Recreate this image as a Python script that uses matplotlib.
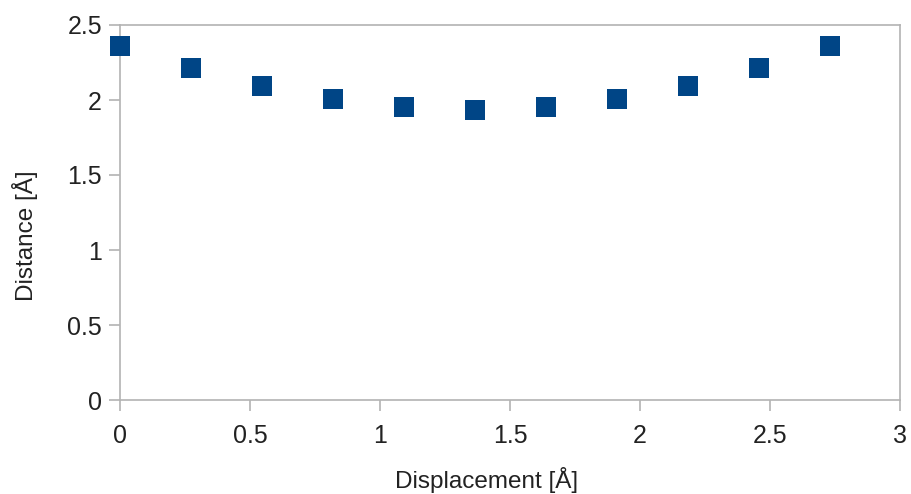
import matplotlib
matplotlib.use("Agg")
import matplotlib.pyplot as plt

displacement = [0.0, 0.273, 0.546, 0.819, 1.092, 1.365, 1.638, 1.911, 2.185, 2.458, 2.731]
distance = [2.36, 2.215, 2.095, 2.005, 1.95, 1.93, 1.95, 2.005, 2.095, 2.215, 2.36]
xticks = [0, 0.5, 1, 1.5, 2, 2.5, 3]
yticks = [0, 0.5, 1, 1.5, 2, 2.5]
xticklabels = ["0", "0.5", "1", "1.5", "2", "2.5", "3"]
yticklabels = ["0", "0.5", "1", "1.5", "2", "2.5"]

plt.rcParams['font.family'] = ['Liberation Sans', 'DejaVu Sans']

W, H = 911, 494
fig = plt.figure(figsize=(W / 100, H / 100), dpi=100)
ax = fig.add_axes([120 / W, (H - 400) / H, 780 / W, 375 / H])

ax.plot(displacement, distance, linestyle='none', marker='s', markersize=14.4,
        markerfacecolor='#004586', markeredgewidth=0, clip_on=False, zorder=3)

ax.set_xlim(0, 3)
ax.set_ylim(0, 2.5)
ax.set_xticks(xticks)
ax.set_xticklabels(xticklabels)
ax.set_yticks(yticks)
ax.set_yticklabels(yticklabels)

gray = '#b3b3b3'
for s in ax.spines.values():
    s.set_color(gray)
    s.set_linewidth(1.2)
ax.tick_params(axis='both', direction='out', length=8, width=1.2, color=gray,
               labelsize=18, labelcolor='#222222')
ax.tick_params(axis='x', pad=9)
ax.tick_params(axis='y', pad=5)

ax.set_xlabel('Displacement [Å]', fontsize=17.5, color='#222222')
ax.set_ylabel('Distance [Å]', fontsize=17.5, color='#222222')
ax.xaxis.set_label_coords((487 - 120) / 780, (400 - 467) / 375)
ax.yaxis.set_label_coords((38 - 120) / 780, (400 - 236) / 375)

fig.savefig('out.png', dpi=100)
